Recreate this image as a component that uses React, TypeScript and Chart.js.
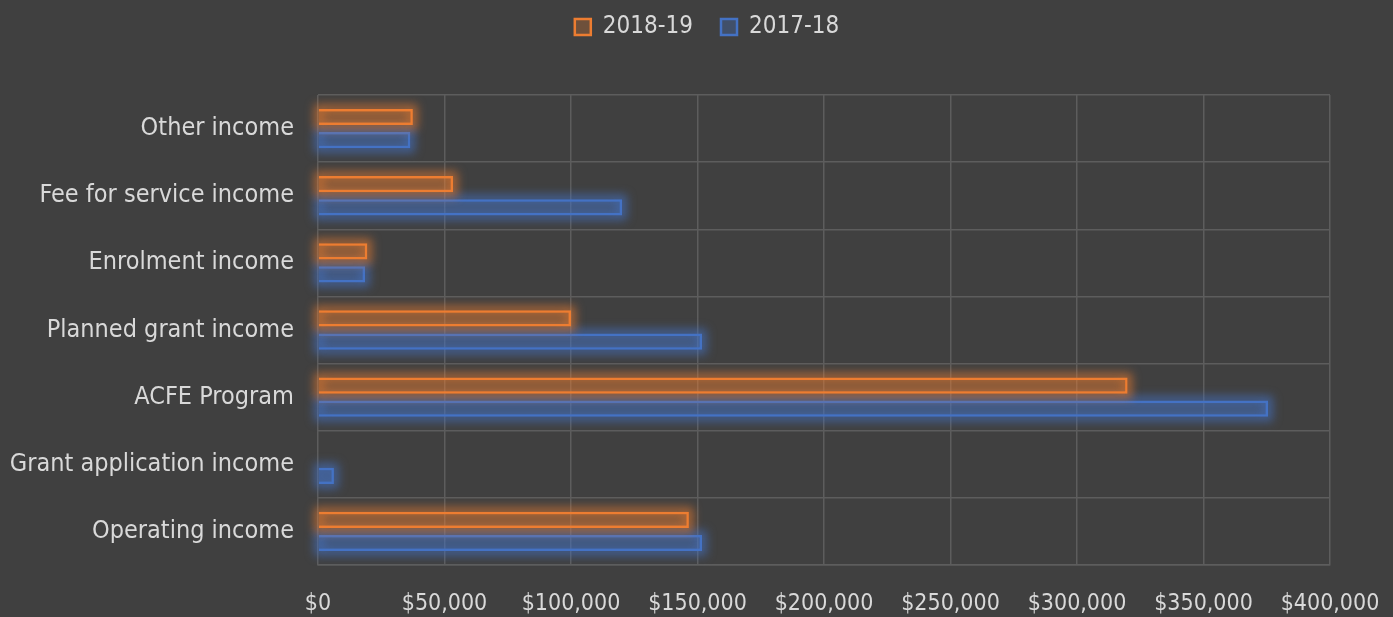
import React, { useEffect, useRef } from "react";
import { Chart, registerables } from "chart.js";

Chart.register(...registerables);

const categories = [
  "Other income",
  "Fee for service income",
  "Enrolment income",
  "Planned grant income",
  "ACFE Program",
  "Grant application income",
  "Operating income",
];
const series2018_19 = [37500, 53400, 19500, 100000, 320000, 0, 146600];
const series2017_18 = [36500, 120200, 18600, 151800, 375500, 6300, 151800];
const seriesLabels = ["2018-19", "2017-18"];
const xTickMin = 0;
const xTickMax = 400000;
const xTickStep = 50000;

const ORANGE = "#ED7D31";
const BLUE = "#4472C4";
const GLOWS = ["rgba(237,125,49,0.6)", "rgba(68,114,196,0.65)"];
const TEXT = "#d9d9d9";
const GRID = "#5d5d5d";
const FONT = "'DejaVu Sans Condensed', 'Liberation Sans Narrow', sans-serif";

const glowPlugin = {
  id: "glow",
  afterInit(chart: any) {
    const legend = chart.legend;
    if (legend) {
      const origFit = legend.fit.bind(legend);
      legend.fit = function () {
        origFit();
        this.height = 95;
      };
      const origDraw = legend.draw.bind(legend);
      legend.draw = function () {
        const ctx = chart.ctx;
        ctx.save();
        ctx.translate(42, -13);
        origDraw();
        ctx.restore();
      };
    }
  },
  beforeDatasetDraw(chart: any, args: any) {
    const ctx = chart.ctx;
    const meta = chart.getDatasetMeta(args.index);
    ctx.save();
    ctx.filter = "blur(5px)";
    ctx.strokeStyle = GLOWS[args.index];
    ctx.lineWidth = 9;
    meta.data.forEach((el: any) => {
      const p = el.getProps(["x", "y", "base", "height"], true);
      const w = Math.abs(p.x - p.base);
      if (w < 1) return;
      const left = Math.min(p.x, p.base);
      ctx.strokeRect(left, p.y - p.height / 2, w, p.height);
    });
    ctx.restore();
  },
};

export default function App() {
  const ref = useRef<HTMLCanvasElement>(null);
  useEffect(() => {
    document.body.style.margin = "0";
    const chart = new Chart(ref.current!, {
      type: "bar",
      data: {
        labels: categories,
        datasets: [
          {
            label: seriesLabels[0],
            data: series2018_19,
            backgroundColor: "rgba(237,125,49,0.27)",
            borderColor: ORANGE,
            borderWidth: 2.5,
            categoryPercentage: 0.69,
            barPercentage: 0.7,
          },
          {
            label: seriesLabels[1],
            data: series2017_18,
            backgroundColor: "rgba(68,114,196,0.32)",
            borderColor: BLUE,
            borderWidth: 2.5,
            categoryPercentage: 0.69,
            barPercentage: 0.7,
          },
        ],
      },
      plugins: [glowPlugin],
      options: {
        indexAxis: "y",
        animation: false,
        responsive: true,
        maintainAspectRatio: false,
        layout: { padding: { top: 0, right: 63, bottom: 0, left: 0 } },
        plugins: {
          legend: {
            position: "top",
            labels: {
              color: TEXT,
              font: { family: FONT, size: 24 },
              boxWidth: 16,
              boxHeight: 16,
              padding: 28,
            },
          },
          tooltip: { enabled: false },
        },
        scales: {
          x: {
            min: xTickMin,
            max: xTickMax,
            afterFit: (s: any) => {
              s.height = 52;
              s.paddingLeft = 0;
              s.paddingRight = 0;
            },
            ticks: {
              stepSize: xTickStep,
              color: TEXT,
              font: { family: FONT, size: 23 },
              padding: 25,
              maxRotation: 0,
              callback: (v: any) => "$" + Number(v).toLocaleString("en-US"),
            },
            grid: { color: GRID, lineWidth: 1.5, drawTicks: false },
            border: { color: GRID, width: 1.5 },
          },
          y: {
            afterFit: (s: any) => {
              s.width = 318;
            },
            ticks: {
              color: TEXT,
              font: { family: FONT, size: 25 },
              padding: 24,
            },
            grid: { color: GRID, lineWidth: 1.5, drawTicks: false, offset: true },
            border: { display: false },
          },
        },
      },
    });
    return () => chart.destroy();
  }, []);
  return (
    <div style={{ position: "fixed", left: 0, top: 0, width: 1393, height: 617, background: "#404040" }}>
      <canvas ref={ref} />
    </div>
  );
}
